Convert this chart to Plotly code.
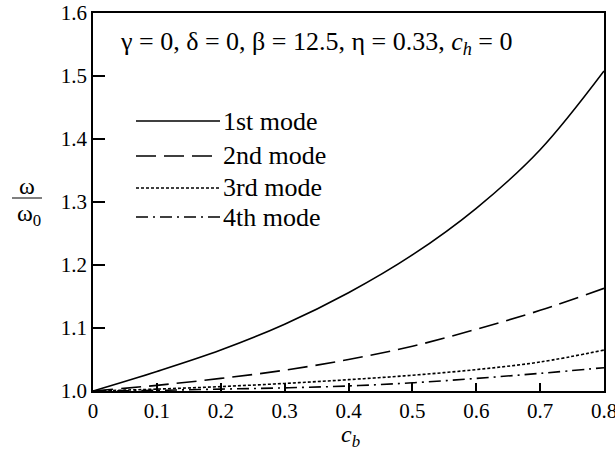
import plotly.graph_objects as go

c_b = [0.0, 0.1, 0.2, 0.3, 0.4, 0.5, 0.6, 0.7, 0.8]
mode1 = [1.000, 1.031, 1.065, 1.106, 1.156, 1.216, 1.290, 1.383, 1.508]
mode2 = [1.000, 1.009, 1.020, 1.033, 1.050, 1.071, 1.098, 1.128, 1.163]
mode3 = [1.000, 1.003, 1.007, 1.012, 1.018, 1.025, 1.034, 1.046, 1.065]
mode4 = [1.000, 1.001, 1.003, 1.005, 1.008, 1.013, 1.020, 1.028, 1.037]
names = ["1st mode", "2nd mode", "3rd mode", "4th mode"]
dashes = ["solid", "20px,8px", "3px,2px", "12px,5px,2px,5px"]
x_ticks = [0, 0.1, 0.2, 0.3, 0.4, 0.5, 0.6, 0.7, 0.8]
x_labels = ["0", "0.1", "0.2", "0.3", "0.4", "0.5", "0.6", "0.7", "0.8"]
y_ticks = [1.0, 1.1, 1.2, 1.3, 1.4, 1.5, 1.6]
y_labels = ["1.0", "1.1", "1.2", "1.3", "1.4", "1.5", "1.6"]

FONT = "Liberation Serif"
W, H = 615, 450
L, R, T, B = 93, 11, 13, 59
pw, ph = W - L - R, H - T - B

fig = go.Figure()
for ys, nm, ds in zip([mode1, mode2, mode3, mode4], names, dashes):
    fig.add_trace(go.Scatter(x=c_b, y=ys, mode="lines", name=nm, line_shape="spline",
                             line=dict(color="black", width=1.6, dash=ds), showlegend=False))

# legend drawn manually
leg_y = [121, 156, 188, 217]
for nm, ds, yp in zip(names, dashes, leg_y):
    py = (H - B - yp) / ph
    fig.add_shape(type="line", xref="paper", yref="paper",
                  x0=(136 - L) / pw, x1=(220 - L) / pw, y0=py, y1=py,
                  line=dict(color="black", width=1.6, dash=ds))
    fig.add_annotation(xref="paper", yref="paper", x=(221 - L) / pw, y=py, text=nm,
                       showarrow=False, xanchor="left", yanchor="middle",
                       font=dict(family=FONT, size=26, color="black"))

fig.add_annotation(xref="paper", yref="paper", x=(316 - L) / pw, y=(H - B - 43) / ph,
                   text="γ = 0, δ = 0, β = 12.5, η = 0.33, <i>c<sub>h</sub></i> = 0",
                   showarrow=False, xanchor="center", yanchor="middle",
                   font=dict(family=FONT, size=26, color="black"))

# y axis label as fraction
fig.add_annotation(xref="paper", yref="paper", x=(27 - L) / pw, y=(H - B - 186) / ph,
                   text="ω", showarrow=False, xanchor="center", yanchor="middle",
                   font=dict(family=FONT, size=24, color="black"))
fig.add_shape(type="line", xref="paper", yref="paper",
              x0=(12 - L) / pw, x1=(42 - L) / pw, y0=(H - B - 198) / ph, y1=(H - B - 198) / ph,
              line=dict(color="black", width=1))
fig.add_annotation(xref="paper", yref="paper", x=(29 - L) / pw, y=(H - B - 215) / ph,
                   text="ω<sub>0</sub>", showarrow=False, xanchor="center", yanchor="middle",
                   font=dict(family=FONT, size=24, color="black"))

# x axis label
fig.add_annotation(xref="paper", yref="paper", x=(350 - L) / pw, y=(H - B - 436) / ph,
                   text="<i>c<sub>b</sub></i>", showarrow=False, xanchor="center", yanchor="middle",
                   font=dict(family=FONT, size=24, color="black"))

fig.update_layout(
    width=W, height=H,
    margin=dict(l=L, r=R, t=T, b=B, autoexpand=False),
    plot_bgcolor="white", paper_bgcolor="white",
    font=dict(family=FONT, size=21, color="black"),
    xaxis=dict(range=[0, 0.8], tickvals=x_ticks, ticktext=x_labels,
               ticks="inside", ticklen=8, tickwidth=1.5, tickcolor="black",
               showline=True, linecolor="black", linewidth=1.8, mirror=True,
               showgrid=False, zeroline=False, ticklabeloverflow="allow", automargin=False,
               tickfont=dict(family=FONT, size=21, color="black")),
    yaxis=dict(range=[1.0, 1.6], tickvals=y_ticks, ticktext=y_labels,
               ticks="inside", ticklen=12, tickwidth=1.5, tickcolor="black",
               showline=True, linecolor="black", linewidth=1.8, mirror=True,
               showgrid=False, zeroline=False, ticklabeloverflow="allow", automargin=False,
               tickfont=dict(family=FONT, size=21, color="black")),
)

fig.write_html("out.html", config={"displayModeBar": False},
               post_script="document.body.style.margin='0';document.documentElement.style.overflow='hidden';")
